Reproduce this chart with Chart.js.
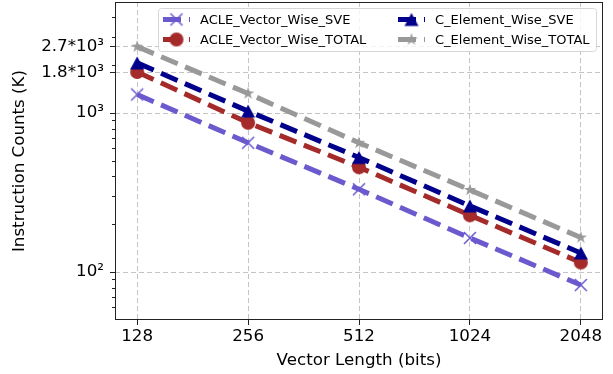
<!DOCTYPE html>
<html>
<head>
<meta charset="utf-8">
<script src="https://cdn.jsdelivr.net/npm/chart.js@4.4.1/dist/chart.umd.min.js"></script>
<style>
  html, body { margin: 0; padding: 0; background: #fff; }
  canvas { display: block; }
</style>
</head>
<body>
<canvas id="chart" width="613" height="374"></canvas>
<script>
const X_LABELS = ["128", "256", "512", "1024", "2048"];
const SERIES_NAMES = [
  "ACLE_Vector_Wise_SVE",
  "ACLE_Vector_Wise_TOTAL",
  "C_Element_Wise_SVE",
  "C_Element_Wise_TOTAL",
];
const ACLE_SVE = [1310, 651, 332, 164, 83];
const ACLE_TOTAL = [1815, 870, 457, 228, 115];
const C_SVE = [2070, 1030, 526, 261, 132];
const C_TOTAL = [2620, 1329, 651, 329, 165];

const Y_MIN = 50;
const Y_MAX = 5000;
const Y_TICK_VALUES = [100, 1000, 1800, 2620];
const Y_TICK_LABELS = ["10²", "10³", "1.8*10³", "2.7*10³"];
const Y_MINOR_TICKS = [60, 70, 80, 90, 200, 300, 400, 500, 600, 700, 800, 900, 2000, 3000, 4000];

const FONT = "DejaVu Sans";
const AXIS_FONT = { family: FONT, size: 16.7 };
const GRID_COLOR = "rgba(176, 176, 176, 0.75)";
const INK = "#222";

const makeMarker = (draw) => {
  const c = document.createElement("canvas");
  c.width = 20;
  c.height = 20;
  draw(c.getContext("2d"), 10, 10);
  return c;
};

const crossMarker = (color) =>
  makeMarker((ctx, x, y) => {
    ctx.strokeStyle = color;
    ctx.lineWidth = 1.5;
    ctx.beginPath();
    ctx.moveTo(x - 6, y - 6);
    ctx.lineTo(x + 6, y + 6);
    ctx.moveTo(x - 6, y + 6);
    ctx.lineTo(x + 6, y - 6);
    ctx.stroke();
  });

const circleMarker = (color) =>
  makeMarker((ctx, x, y) => {
    ctx.fillStyle = color;
    ctx.beginPath();
    ctx.arc(x, y, 7, 0, Math.PI * 2);
    ctx.fill();
  });

const triangleMarker = (color) =>
  makeMarker((ctx, x, y) => {
    ctx.fillStyle = color;
    ctx.beginPath();
    ctx.moveTo(x, y - 6.5);
    ctx.lineTo(x + 7, y + 6.5);
    ctx.lineTo(x - 7, y + 6.5);
    ctx.closePath();
    ctx.fill();
  });

const starMarker = (color) =>
  makeMarker((ctx, x, y) => {
    const outer = 6.5;
    const inner = outer * 0.382;
    ctx.fillStyle = color;
    ctx.beginPath();
    for (let i = 0; i < 10; i += 1) {
      const r = i % 2 === 0 ? outer : inner;
      const a = -Math.PI / 2 + (i * Math.PI) / 5;
      const px = x + Math.cos(a) * r;
      const py = y + Math.sin(a) * r;
      if (i === 0) ctx.moveTo(px, py);
      else ctx.lineTo(px, py);
    }
    ctx.closePath();
    ctx.fill();
  });

const toPoints = (values) => values.map((v, i) => ({ x: i, y: v }));

const makeDataset = (label, values, color, marker, order) => ({
  label,
  data: toPoints(values),
  borderColor: color,
  backgroundColor: color,
  borderWidth: 5,
  borderDash: [18, 8],
  borderCapStyle: "butt",
  pointStyle: marker,
  pointBorderColor: color,
  pointBackgroundColor: color,
  fill: false,
  tension: 0,
  order,
});

const framePlugin = {
  id: "frame",
  afterDatasetsDraw(chart) {
    const { ctx, chartArea, scales } = chart;
    ctx.save();
    ctx.strokeStyle = INK;
    ctx.lineWidth = 1;
    ctx.strokeRect(
      Math.round(chartArea.left) + 0.5,
      Math.round(chartArea.top) + 0.5,
      Math.round(chartArea.right - chartArea.left) - 1,
      Math.round(chartArea.bottom - chartArea.top) - 1
    );
    // minor ticks on the log axis
    const y = scales.y;
    ctx.beginPath();
    Y_MINOR_TICKS.forEach((v) => {
      const py = Math.round(y.getPixelForValue(v)) + 0.5;
      if (py < chartArea.top || py > chartArea.bottom) return;
      ctx.moveTo(chartArea.left - 3, py);
      ctx.lineTo(chartArea.left, py);
    });
    ctx.stroke();
    ctx.restore();
  },
};

const legendPlugin = {
  id: "boxLegend",
  afterDraw(chart) {
    const { ctx } = chart;
    const handleX = [163, 398];
    const textX = [200, 435];
    const rowY = [19.5, 39.5];
    ctx.save();
    ctx.beginPath();
    ctx.roundRect(158.5, 8.5, 438, 43, 3);
    ctx.fillStyle = "rgba(255, 255, 255, 0.8)";
    ctx.fill();
    ctx.strokeStyle = "#d6d6d6";
    ctx.lineWidth = 1;
    ctx.stroke();

    chart.data.datasets.forEach((ds, i) => {
      const col = Math.floor(i / 2);
      const row = i % 2;
      const hx = handleX[col];
      const hy = rowY[row];
      ctx.save();
      ctx.strokeStyle = ds.borderColor;
      ctx.lineWidth = ds.borderWidth;
      ctx.lineCap = "butt";
      ctx.setLineDash(ds.borderDash);
      ctx.beginPath();
      ctx.moveTo(hx, hy);
      ctx.lineTo(hx + 27, hy);
      ctx.stroke();
      ctx.restore();
      ctx.drawImage(ds.pointStyle, hx + 13.5 - 10, hy - 10);

      ctx.fillStyle = "#000";
      ctx.font = `13px "${FONT}"`;
      ctx.textAlign = "left";
      ctx.textBaseline = "middle";
      ctx.fillText(ds.label, textX[col], hy + 1);
    });
    ctx.restore();
  },
};

const buildChart = () => {
  const ctx = document.getElementById("chart");
  return new Chart(ctx, {
    type: "line",
    data: {
      datasets: [
        makeDataset(SERIES_NAMES[0], ACLE_SVE, "#6a5acd", crossMarker("#6a5acd"), 3),
        makeDataset(SERIES_NAMES[1], ACLE_TOTAL, "#a52a2a", circleMarker("#a52a2a"), 2),
        makeDataset(SERIES_NAMES[2], C_SVE, "#00008b", triangleMarker("#00008b"), 1),
        makeDataset(SERIES_NAMES[3], C_TOTAL, "#999999", starMarker("#999999"), 0),
      ],
    },
    plugins: [framePlugin, legendPlugin],
    options: {
      responsive: false,
      devicePixelRatio: 1,
      animation: false,
      layout: { autoPadding: false, padding: { top: 2, right: 10, left: 0, bottom: 0 } },
      plugins: {
        legend: { display: false },
        tooltip: { enabled: false },
      },
      scales: {
        x: {
          type: "linear",
          min: -0.2,
          max: 4.2,
          bounds: "data",
          afterBuildTicks(scale) {
            scale.ticks = X_LABELS.map((_, i) => ({ value: i }));
          },
          afterFit(scale) {
            scale.height = 54;
            scale.paddingLeft = 0;
            scale.paddingRight = 0;
          },
          ticks: {
            autoSkip: false,
            maxRotation: 0,
            color: "#000",
            font: AXIS_FONT,
            padding: 2,
            callback: (value) => X_LABELS[value] ?? "",
          },
          grid: {
            color: GRID_COLOR,
            lineWidth: 1,
            tickColor: INK,
            tickLength: 5,
          },
          border: { display: false, dash: [5, 3] },
          title: {
            display: true,
            text: "Vector Length (bits)",
            color: "#000",
            font: AXIS_FONT,
            padding: { top: 0, bottom: 3 },
          },
        },
        y: {
          type: "logarithmic",
          min: Y_MIN,
          max: Y_MAX,
          afterBuildTicks(scale) {
            scale.ticks = Y_TICK_VALUES.map((v) => ({ value: v }));
          },
          afterFit(scale) {
            scale.width = 115;
            scale.paddingTop = 0;
            scale.paddingBottom = 0;
          },
          ticks: {
            autoSkip: false,
            color: "#000",
            font: AXIS_FONT,
            padding: 6,
            callback: (value) => {
              const idx = Y_TICK_VALUES.indexOf(Number(value));
              return idx >= 0 ? Y_TICK_LABELS[idx] : "";
            },
          },
          grid: {
            color: GRID_COLOR,
            lineWidth: 1,
            tickColor: INK,
            tickLength: 5,
          },
          border: { display: false, dash: [5, 3] },
          title: {
            display: true,
            text: "Instruction Counts (K)",
            color: "#000",
            font: AXIS_FONT,
            padding: { top: 10, bottom: 0 },
          },
        },
      },
    },
  });
};

buildChart();
</script>
</body>
</html>
